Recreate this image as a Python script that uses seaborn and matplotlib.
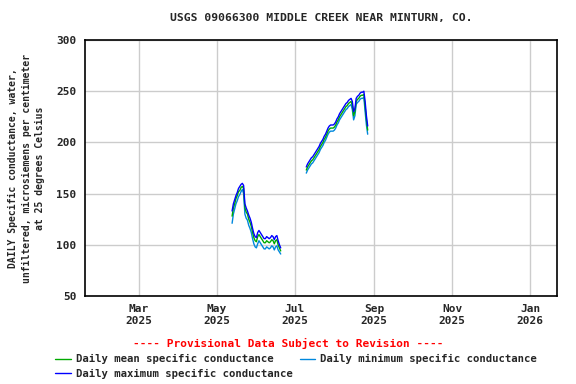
import pandas as pd
import numpy as np
import matplotlib
matplotlib.use('Agg')
import matplotlib.pyplot as plt
import matplotlib.dates as mdates
from matplotlib.lines import Line2D
import seaborn as sns

# daily values, two runs of data with a gap between
seg1_start = '2025-05-13'
seg1_mean = [128, 136, 140, 145, 148, 152, 153, 156, 157, 155, 136, 132, 130, 125, 122,
             118, 112, 107, 104, 103, 108, 110, 108, 106, 104, 102, 102, 104, 103, 102,
             103, 105, 104, 101, 104, 105, 100, 97, 94]
seg1_max = [133, 140, 144, 148, 151, 155, 157, 159, 160, 158, 140, 136, 133, 129, 126,
            122, 116, 111, 108, 107, 112, 114, 112, 110, 108, 106, 106, 108, 107, 106,
            107, 109, 108, 105, 108, 109, 104, 100, 97]
seg1_min = [121, 130, 135, 140, 143, 147, 149, 152, 154, 150, 130, 126, 124, 119, 116,
            112, 106, 101, 98, 97, 101, 104, 102, 100, 98, 96, 96, 98, 97, 96,
            97, 99, 98, 95, 98, 99, 95, 93, 91]

seg2_start = '2025-07-10'
seg2_mean = [173, 176, 178, 180, 182, 183, 185, 187, 189, 191, 193, 196, 198, 200, 203,
             205, 208, 211, 213, 214, 214, 214, 215, 217, 220, 222, 225, 227, 229, 231,
             233, 235, 236, 238, 239, 240, 236, 226, 230, 240, 242, 243, 245, 246, 246,
             247, 235, 222, 212]
seg2_max = [176, 179, 181, 183, 185, 186, 188, 190, 192, 194, 196, 199, 201, 203, 206,
            208, 211, 214, 216, 217, 217, 217, 218, 220, 223, 225, 228, 230, 232, 234,
            236, 238, 239, 241, 242, 243, 240, 230, 233, 243, 245, 246, 248, 249, 249,
            250, 240, 226, 216]
seg2_min = [170, 173, 175, 177, 179, 180, 182, 184, 186, 188, 190, 193, 195, 197, 200,
            202, 205, 208, 210, 211, 211, 211, 212, 214, 217, 219, 222, 224, 226, 228,
            230, 232, 233, 235, 236, 237, 232, 222, 226, 237, 239, 240, 242, 243, 243,
            244, 230, 217, 208]

series_names = ['Daily mean specific conductance',
                'Daily maximum specific conductance',
                'Daily minimum specific conductance']
series_colors = ['#00aa00', '#0000ff', '#0088dd']

rows = []
for seg, (start, mean, mx, mn) in enumerate([(seg1_start, seg1_mean, seg1_max, seg1_min),
                                             (seg2_start, seg2_mean, seg2_max, seg2_min)]):
    dates = pd.date_range(start, periods=len(mean), freq='D')
    for name, vals in zip(series_names, [mean, mx, mn]):
        for d, v in zip(dates, vals):
            rows.append({'date': d, 'value': v, 'series': name, 'segment': seg})
df = pd.DataFrame(rows)

sns.set_style('white')
plt.rcParams['font.family'] = ['DejaVu Sans Mono']
plt.rcParams['font.weight'] = 'bold'

fig = plt.figure(figsize=(5.76, 3.84), dpi=100)
ax = fig.add_axes([85/576, 1-296/384, (557-85)/576, (296-40)/384])

# draw min first, then mean, then max on top
for name, col in [(series_names[2], series_colors[2]),
                  (series_names[0], series_colors[0]),
                  (series_names[1], series_colors[1])]:
    sub = df[df['series'] == name]
    sns.lineplot(data=sub, x='date', y='value', units='segment', estimator=None,
                 color=col, linewidth=1.0, ax=ax, legend=False)

ax.set_xlim(pd.Timestamp('2025-01-18'), pd.Timestamp('2026-01-22'))
ax.set_ylim(50, 300)
ax.set_yticks([50, 100, 150, 200, 250, 300])
ax.xaxis.set_major_locator(mdates.MonthLocator(bymonth=[1, 3, 5, 7, 9, 11]))
ax.xaxis.set_major_formatter(mdates.DateFormatter('%b\n%Y'))
ax.grid(True, color='#cccccc', linewidth=1.0)
ax.tick_params(length=0, labelsize=8, pad=6)
for lab in ax.get_xticklabels() + ax.get_yticklabels():
    lab.set_fontweight('bold')
for sp in ax.spines.values():
    sp.set_color('black')
    sp.set_linewidth(1.2)
ax.set_xlabel('')
ax.set_ylabel('DAILY Specific conductance, water,\nunfiltered, microsiemens per centimeter\nat 25 degrees Celsius',
              fontsize=7, fontweight='bold', linespacing=1.45, labelpad=8)

ax.set_title('USGS 09066300 MIDDLE CREEK NEAR MINTURN, CO.', fontsize=8.2,
             fontweight='bold', pad=14)

fig.text(0.5, 1-343/384, '---- Provisional Data Subject to Revision ----',
         color='red', ha='center', va='center', fontsize=8, fontweight='bold')

handles = [Line2D([0], [0], color=c, linewidth=1.0) for c in series_colors]
fig.legend(handles, series_names, loc='upper left', bbox_to_anchor=(50/576, 1-349/384),
           ncol=2, frameon=False, handlelength=1.45, handletextpad=0.45,
           columnspacing=0.7, borderpad=0, labelspacing=0.45,
           prop={'weight': 'bold', 'size': 7.7, 'family': 'DejaVu Sans Mono'})

fig.savefig('out.png', dpi=100)
